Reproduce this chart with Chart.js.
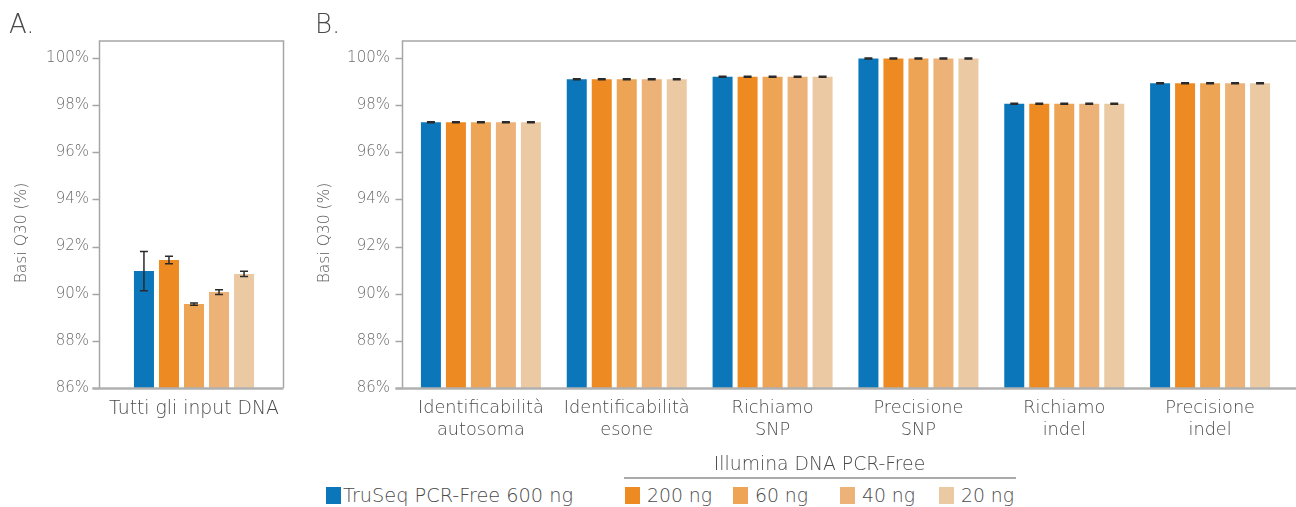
<!DOCTYPE html>
<html><head><meta charset="utf-8">
<script src="https://cdn.jsdelivr.net/npm/chart.js@4.4.1/dist/chart.umd.min.js"></script>
<style>
body{margin:0;width:1296px;height:507px;background:#fff;position:relative;overflow:hidden;font-family:'DejaVu Sans',sans-serif;font-weight:300;}
canvas{position:absolute;top:0}
#cA{left:0}
#cB{left:300px}
.lbl{position:absolute;color:#4a4a4a;white-space:nowrap;line-height:22px}
.sw{position:absolute;width:15px;height:17px}
</style></head><body>
<canvas id="cA" width="300" height="460"></canvas>
<canvas id="cB" width="996" height="460"></canvas>
<div class="lbl" style="left:9px;top:10px;font-size:26px;line-height:28px">A.</div>
<div class="lbl" style="left:315px;top:10px;font-size:26px;line-height:28px">B.</div>
<div id="legend"></div>
<script>
// ---- data ----
const seriesNames = ['TruSeq PCR-Free 600 ng', '200 ng', '60 ng', '40 ng', '20 ng'];
const groupTitle = 'Illumina DNA PCR-Free';
const yTitle = 'Basi Q30 (%)';
const yTicks = [86, 88, 90, 92, 94, 96, 98, 100];

const catA = ['Tutti gli input DNA'];
const valuesA = [90.96, 91.43, 89.56, 90.07, 90.84];
const errorsA = [0.83, 0.16, 0.05, 0.10, 0.11];

const catB = [['Identificabilità', 'autosoma'], ['Identificabilità', 'esone'], ['Richiamo', 'SNP'], ['Precisione', 'SNP'], ['Richiamo', 'indel'], ['Precisione', 'indel']];
const truseq600 = [97.27, 99.10, 99.20, 99.98, 98.06, 98.93];
const ng200 = [97.27, 99.10, 99.20, 99.98, 98.06, 98.93];
const ng60 = [97.27, 99.10, 99.20, 99.98, 98.06, 98.93];
const ng40 = [97.27, 99.10, 99.20, 99.98, 98.06, 98.93];
const ng20 = [97.27, 99.10, 99.20, 99.98, 98.06, 98.93];
const errB = [0.02, 0.02, 0.02, 0.02, 0.02, 0.02];

// ---- style ----
const colors = ['#0b76b9', '#ee8a22', '#eda455', '#edb277', '#ebc9a3'];
const FONT = "'DejaVu Sans', sans-serif";
Chart.defaults.font.family = FONT;
Chart.defaults.font.weight = '300';

function boxPlugin(boxL, boxR, titleX) {
  return {
    id: 'box',
    afterDatasetsDraw(chart) {
      const ctx = chart.ctx, a = chart.chartArea, ys = chart.scales.y;
      // error bars
      chart.data.datasets.forEach((ds, di) => {
        const meta = chart.getDatasetMeta(di);
        meta.data.forEach((bar, i) => {
          const v = ds.data[i], e = ds.err[i];
          const yt = ys.getPixelForValue(v + e), yb = ys.getPixelForValue(v - e);
          ctx.save();
          ctx.strokeStyle = '#2a2a2a';
          ctx.lineWidth = 1.5;
          ctx.beginPath();
          ctx.moveTo(bar.x, yt); ctx.lineTo(bar.x, yb);
          ctx.moveTo(bar.x - 4, yt); ctx.lineTo(bar.x + 4, yt);
          ctx.moveTo(bar.x - 4, yb); ctx.lineTo(bar.x + 4, yb);
          ctx.stroke();
          ctx.restore();
        });
      });
      ctx.save();
      ctx.strokeStyle = '#a6a6a6';
      ctx.lineWidth = 1.5;
      ctx.beginPath();
      ctx.moveTo(boxL, a.bottom); ctx.lineTo(boxL, a.top);
      ctx.lineTo(boxR, a.top); ctx.lineTo(boxR, a.bottom);
      yTicks.forEach(t => {
        const y = Math.round(ys.getPixelForValue(t)) + 0.5;
        ctx.moveTo(boxL - 7, y); ctx.lineTo(boxL, y);
      });
      ctx.stroke();
      ctx.lineWidth = 2.5;
      ctx.strokeStyle = '#b0b0b0';
      ctx.beginPath();
      ctx.moveTo(boxL - 7, a.bottom + 0.5); ctx.lineTo(boxR, a.bottom + 0.5);
      ctx.stroke();
      // axis title
      ctx.fillStyle = '#5a5a5a';
      ctx.font = "300 15.5px " + FONT;
      ctx.textAlign = 'center';
      ctx.textBaseline = 'middle';
      ctx.translate(titleX, 233);
      ctx.rotate(-Math.PI / 2);
      ctx.fillText(yTitle, 0, 0);
      ctx.restore();
    }
  };
}

function makeChart(id, labels, datasets, opts) {
  return new Chart(document.getElementById(id), {
    type: 'bar',
    data: { labels, datasets },
    options: {
      responsive: false,
      animation: false,
      devicePixelRatio: 1,
      layout: { padding: { top: 41, right: opts.padRight, left: 0, bottom: 0 } },
      plugins: { legend: { display: false }, tooltip: { enabled: false } },
      datasets: { bar: { categoryPercentage: opts.cp, barPercentage: 0.8 } },
      scales: {
        x: {
          grid: { display: false, tickLength: 0 },
          border: { display: false },
          ticks: { color: '#4a4a4a', font: { size: opts.xSize, lineHeight: 22 / opts.xSize }, padding: opts.xPad, maxRotation: 0, autoSkip: false },
          afterFit(s) { s.height = 72; }
        },
        y: {
          min: 86, max: 100.72,
          grid: { display: false, tickLength: 0 },
          border: { display: false },
          afterBuildTicks(s) { s.ticks = yTicks.map(v => ({ value: v })); },
          ticks: { color: '#6b6b6b', font: { size: 15 }, padding: opts.yPad, callback: v => v + '%' },
          afterFit(s) { s.width = opts.yWidth; }
        }
      }
    },
    plugins: [boxPlugin(opts.boxL, opts.boxR, opts.titleX)]
  });
}

const dsA = seriesNames.map((n, i) => ({ label: n, data: [valuesA[i]], err: [errorsA[i]], backgroundColor: colors[i] }));
makeChart('cA', catA, dsA, { padRight: 14, cp: 0.68, xPad: 10, xSize: 18.8, yPad: 13, yWidth: 102, boxL: 99.5, boxR: 283.5, titleX: 22 });

const seriesB = [truseq600, ng200, ng60, ng40, ng20];
const dsB = seriesNames.map((n, i) => ({ label: n, data: seriesB[i], err: errB, backgroundColor: colors[i] }));
makeChart('cB', catB, dsB, { padRight: 13, cp: 0.857, xPad: 9, xSize: 17.7, yPad: 18, yWidth: 108, boxL: 102.5, boxR: 1000, titleX: 25 });

// ---- legend ----
const lg = document.getElementById('legend');
const itemX = [326, 625, 733, 840, 939];
seriesNames.forEach((n, i) => {
  const sw = document.createElement('div');
  sw.className = 'sw';
  sw.style.left = itemX[i] + 'px';
  sw.style.top = '487px';
  sw.style.background = colors[i];
  lg.appendChild(sw);
  const t = document.createElement('div');
  t.className = 'lbl';
  t.style.left = (itemX[i] + (i === 0 ? 17 : 22)) + 'px';
  t.style.top = '485px';
  t.style.fontSize = (i === 0 ? '19.3px' : '18.8px');
  t.textContent = n;
  lg.appendChild(t);
});
const hd = document.createElement('div');
hd.className = 'lbl';
hd.style.left = '623px'; hd.style.width = '393px'; hd.style.textAlign = 'center';
hd.style.top = '453px'; hd.style.fontSize = '18.8px';
hd.textContent = groupTitle;
lg.appendChild(hd);
const ln = document.createElement('div');
ln.style.cssText = 'position:absolute;left:624px;top:477px;width:392px;height:2px;background:#aaa';
lg.appendChild(ln);
</script>
</body></html>
